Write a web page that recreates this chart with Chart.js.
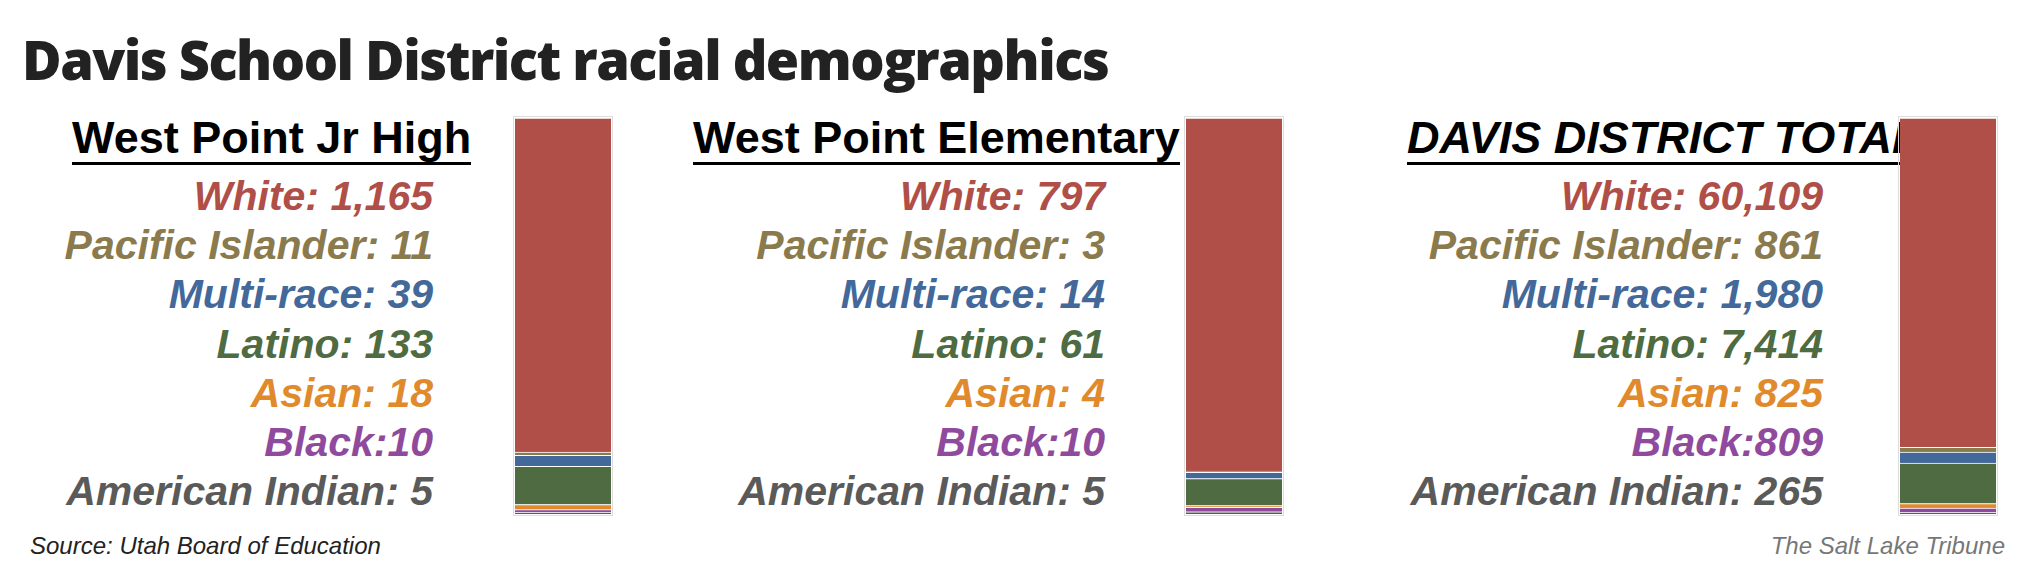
<!DOCTYPE html>
<html lang="en">
<head>
    <meta charset="UTF-8">
    <title>Davis School District racial demographics</title>
    <script src="https://cdn.jsdelivr.net/npm/chart.js"></script>
    <style>
        body { margin: 0; width: 2027px; height: 584px; background: #fff; position: relative; overflow: hidden;
               font-family: "Liberation Sans Narrow", "Liberation Sans", sans-serif; }
        h1 { position: absolute; left: 22px; top: 22px; margin: 0; font-family: "Open Sans", sans-serif;
             font-weight: 800; font-size: 54px; letter-spacing: -1.5px; color: #222; }
        .head { position: absolute; top: 114px; font-size: 45px; font-weight: bold; color: #000;
                border-bottom: 3px solid #000; line-height: 48px; white-space: nowrap; }
        .labels { position: absolute; top: 172px; text-align: right; font-size: 41px; font-weight: bold;
                  font-style: italic; line-height: 49.2px; white-space: nowrap; }
        .bar { position: absolute; top: 116px; width: 100px; height: 400px; border: 1px solid #ddd; box-sizing: border-box; }
        .foot { position: absolute; top: 532px; font-size: 24px; font-style: italic; }
    </style>
</head>
<body>
<h1>Davis School District racial demographics</h1>

<div class="head" style="left:72px">West Point Jr High</div>
<div class="labels" id="lab0" style="right:1594px"></div>
<div class="bar" style="left:513px"><canvas id="bar0"></canvas></div>

<div class="head" style="left:693px">West Point Elementary</div>
<div class="labels" id="lab1" style="right:922px"></div>
<div class="bar" style="left:1184px"><canvas id="bar1"></canvas></div>

<div class="head" style="left:1407px; font-style:italic">DAVIS DISTRICT TOTAL</div>
<div class="labels" id="lab2" style="right:204px"></div>
<div class="bar" style="left:1898px"><canvas id="bar2"></canvas></div>

<div class="foot" style="left:30px; color:#222">Source: Utah Board of Education</div>
<div class="foot" style="right:22px; color:#777">The Salt Lake Tribune</div>

<script>
    // groups as listed top to bottom
    const groups = ['White', 'Pacific Islander', 'Multi-race', 'Latino', 'Asian', 'Black', 'American Indian'];
    const colors = ['#b04f47', '#8a7a4c', '#43689a', '#4e6b41', '#e08a2c', '#8f4a9e', '#5a5a5a'];
    const jrHigh = [1165, 11, 39, 133, 18, 10, 5];
    const elementary = [797, 3, 14, 61, 4, 10, 5];
    const district = [60109, 861, 1980, 7414, 825, 809, 265];
    const panels = [jrHigh, elementary, district];

    panels.forEach(function (values, p) {
        // text list
        const lab = document.getElementById('lab' + p);
        groups.forEach(function (g, i) {
            const sep = g === 'Black' ? ':' : ': ';
            const div = document.createElement('div');
            div.style.color = colors[i];
            div.textContent = g + sep + values[i].toLocaleString('en-US');
            lab.appendChild(div);
        });

        // stacked bar, bottom-up order
        const total = values.reduce(function (a, b) { return a + b; }, 0);
        const datasets = [];
        for (let i = groups.length - 1; i >= 0; i--) {
            datasets.push({
                label: groups[i],
                data: [values[i]],
                backgroundColor: colors[i],
                borderColor: '#fff',
                borderWidth: { top: 1, bottom: 0, left: 0, right: 0 },
                borderSkipped: false,
                barPercentage: 1,
                categoryPercentage: 1
            });
        }
        new Chart(document.getElementById('bar' + p), {
            type: 'bar',
            data: { labels: [''], datasets: datasets },
            options: {
                responsive: true,
                maintainAspectRatio: false,
                animation: false,
                layout: { padding: 1 },
                plugins: { legend: { display: false }, tooltip: { enabled: false } },
                scales: {
                    x: { stacked: true, display: false },
                    y: { stacked: true, display: false, min: 0, max: total }
                }
            }
        });
    });
</script>
</body>
</html>
